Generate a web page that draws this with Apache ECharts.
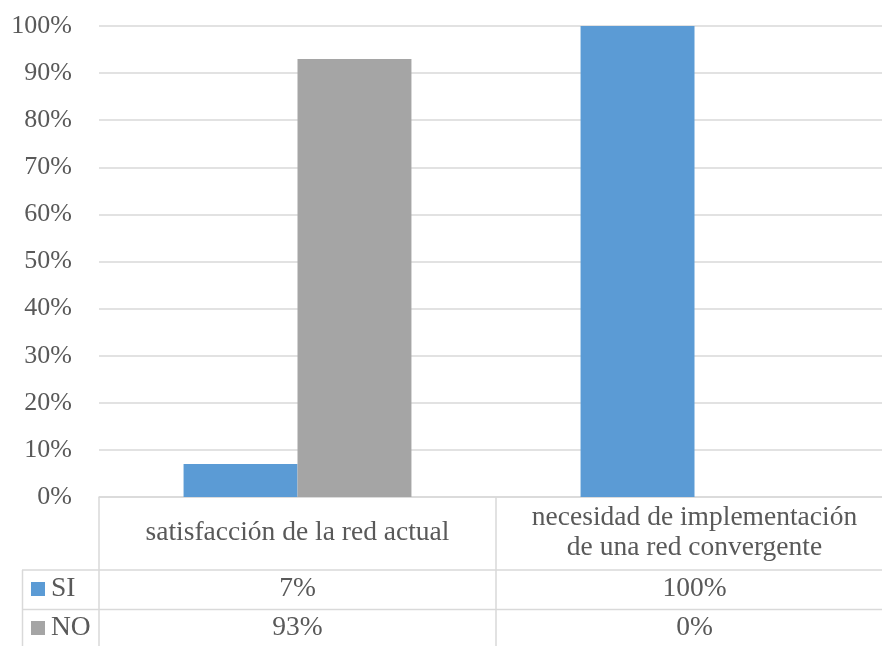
<!DOCTYPE html>
<html>
<head>
<meta charset="utf-8">
<script src="https://cdn.jsdelivr.net/npm/echarts@6/dist/echarts.min.js"></script>
<style>
html,body{margin:0;padding:0;background:#fff;overflow:hidden;}
#main{width:893px;height:646px;}
</style>
</head>
<body>
<div id="main"></div>
<script>
const categories = ['satisfacción de la red actual', 'necesidad de implementación\nde una red convergente'];
const seriesNames = ['SI', 'NO'];
const siValues = [0.07, 1.00];
const noValues = [0.93, 0.00];
const yTicks = [0, 0.1, 0.2, 0.3, 0.4, 0.5, 0.6, 0.7, 0.8, 0.9, 1.0];

const FONT = "'Liberation Serif', 'Times New Roman', serif";
const TXT = '#595959';
const LINE = '#d9d9d9';
const TFS = 27.5;
const pct = v => Math.round(v * 100) + '%';

const chart = echarts.init(document.getElementById('main'), null, {renderer: 'canvas'});
const baseX = {
  type: 'category', data: categories, gridIndex: 0, position: 'bottom'
};
const legendBase = {
  orient: 'vertical', left: 31, padding: 0, itemWidth: 14, itemHeight: 14, icon: 'rect',
  itemStyle: {borderWidth: 0}, selectedMode: false,
  textStyle: {fontFamily: FONT, fontSize: TFS, color: TXT, padding: [0, 0, 0, 1]}
};
chart.setOption({
  animation: false,
  backgroundColor: '#fff',
  color: ['#5b9bd5', '#a5a5a5'],
  grid: {left: 99, top: 26, right: 0, bottom: 149, containLabel: false},
  legend: [
    Object.assign({}, legendBase, {top: 575, data: [seriesNames[0]]}),
    Object.assign({}, legendBase, {top: 614, data: [seriesNames[1]]})
  ],
  xAxis: [
    Object.assign({}, baseX, {
      axisLine: {show: true, lineStyle: {color: LINE, width: 1.5}},
      axisTick: {show: true, length: 160, lineStyle: {color: LINE, width: 1.5}},
      axisLabel: {fontFamily: FONT, fontSize: TFS, color: TXT, lineHeight: 30,
        verticalAlign: 'middle', margin: 36, interval: 0}
    }),
    Object.assign({}, baseX, {
      axisLine: {show: false}, axisTick: {show: false},
      axisLabel: {fontFamily: FONT, fontSize: TFS, color: TXT, verticalAlign: 'middle',
        margin: 92, interval: 0, formatter: (v, i) => pct(siValues[i])}
    }),
    Object.assign({}, baseX, {
      axisLine: {show: false}, axisTick: {show: false},
      axisLabel: {fontFamily: FONT, fontSize: TFS, color: TXT, verticalAlign: 'middle',
        margin: 131, interval: 0, formatter: (v, i) => pct(noValues[i])}
    })
  ],
  yAxis: {
    type: 'value', min: yTicks[0], max: yTicks[yTicks.length - 1], interval: 0.1,
    axisLine: {show: false}, axisTick: {show: false},
    splitLine: {show: true, lineStyle: {color: LINE, width: 1.5}},
    axisLabel: {fontFamily: FONT, fontSize: 26, color: TXT, margin: 27, formatter: v => pct(v)}
  },
  series: [
    {name: seriesNames[0], type: 'bar', data: siValues, barGap: '0%', barCategoryGap: '42.6%', xAxisIndex: 0},
    {name: seriesNames[1], type: 'bar', data: noValues, barGap: '0%', barCategoryGap: '42.6%', xAxisIndex: 0}
  ],
  graphic: [
    {type: 'line', shape: {x1: 22, y1: 570, x2: 893, y2: 570}, style: {stroke: LINE, lineWidth: 1.5}, silent: true},
    {type: 'line', shape: {x1: 22, y1: 609.5, x2: 893, y2: 609.5}, style: {stroke: LINE, lineWidth: 1.5}, silent: true},
    {type: 'line', shape: {x1: 22.5, y1: 570, x2: 22.5, y2: 646}, style: {stroke: LINE, lineWidth: 1.5}, silent: true}
  ]
});
</script>
</body>
</html>
